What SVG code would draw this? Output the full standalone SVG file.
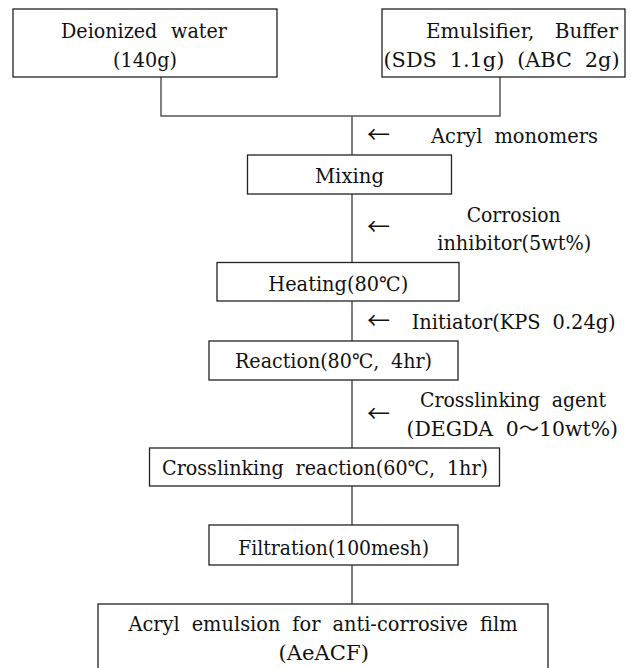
<svg xmlns="http://www.w3.org/2000/svg" width="631" height="668" viewBox="0 0 631 668">
<defs>
<style>
.box{fill:#fff;stroke:#222;stroke-width:1.3}
.con{fill:none;stroke:#555;stroke-width:1.5}
.t{font-family:"DejaVu Serif","Noto Sans CJK KR",serif;font-size:20px;fill:#111}
.arr{font-family:"Noto Sans CJK KR",sans-serif;font-size:23px;fill:#111}
</style>
</defs>
<rect width="631" height="668" fill="#fff"/>
<g id="connectors">
<path class="con" d="M161 77V116H500V77"/>
<path class="con" d="M352 116V155"/>
<path class="con" d="M352 194V262.5"/>
<path class="con" d="M352 301V341"/>
<path class="con" d="M352 380V448"/>
<path class="con" d="M352 486V525"/>
<path class="con" d="M352 565V604"/>
</g>
<g id="node-water">
<rect class="box" x="13" y="9" width="264" height="68"/>
<text class="t" x="61" y="37.5" word-spacing="8" textLength="166" lengthAdjust="spacingAndGlyphs">Deionized water</text>
<text class="t" x="113" y="67" textLength="64" lengthAdjust="spacingAndGlyphs">(140g)</text>
</g>
<g id="node-emulsifier">
<rect class="box" x="382" y="9" width="243" height="68"/>
<text class="t" x="426" y="37.5" word-spacing="14" textLength="192" lengthAdjust="spacingAndGlyphs">Emulsifier, Buffer</text>
<text class="t" x="383.5" y="67" word-spacing="6" textLength="236" lengthAdjust="spacingAndGlyphs">(SDS 1.1g) (ABC 2g)</text>
</g>
<g id="input-acryl">
<text class="arr" x="367" y="143">←</text>
<text class="t" x="431" y="143.3" word-spacing="6" textLength="167" lengthAdjust="spacingAndGlyphs">Acryl monomers</text>
</g>
<g id="node-mixing">
<rect class="box" x="247.5" y="155" width="204" height="39"/>
<text class="t" x="315" y="183.3" textLength="69" lengthAdjust="spacingAndGlyphs">Mixing</text>
</g>
<g id="input-inhibitor">
<text class="arr" x="367" y="235.3">←</text>
<text class="t" x="466.7" y="221.7" textLength="94" lengthAdjust="spacingAndGlyphs">Corrosion</text>
<text class="t" x="437.3" y="250" textLength="154" lengthAdjust="spacingAndGlyphs">inhibitor(5wt%)</text>
</g>
<g id="node-heating">
<rect class="box" x="217" y="262.5" width="242" height="38.5"/>
<text class="t" x="268.3" y="290.7" textLength="140" lengthAdjust="spacingAndGlyphs">Heating(80℃)</text>
</g>
<g id="input-initiator">
<text class="arr" x="367" y="328.7">←</text>
<text class="t" x="411.7" y="329.3" word-spacing="6" textLength="204" lengthAdjust="spacingAndGlyphs">Initiator(KPS 0.24g)</text>
</g>
<g id="node-reaction">
<rect class="box" x="209" y="341" width="249" height="39"/>
<text class="t" x="235" y="367.5" word-spacing="6" textLength="197" lengthAdjust="spacingAndGlyphs">Reaction(80℃, 4hr)</text>
</g>
<g id="input-crosslinker">
<text class="arr" x="367" y="421.5">←</text>
<text class="t" x="420" y="407" word-spacing="6" textLength="186" lengthAdjust="spacingAndGlyphs">Crosslinking agent</text>
<text class="t" x="406.5" y="435.5" word-spacing="6" textLength="211.5" lengthAdjust="spacingAndGlyphs">(DEGDA 0～10wt%)</text>
</g>
<g id="node-crosslinking">
<rect class="box" x="149.5" y="448" width="350" height="38"/>
<text class="t" x="162" y="475" word-spacing="6" textLength="326" lengthAdjust="spacingAndGlyphs">Crosslinking reaction(60℃, 1hr)</text>
</g>
<g id="node-filtration">
<rect class="box" x="209" y="525" width="249" height="40"/>
<text class="t" x="238.3" y="554.7" textLength="190.7" lengthAdjust="spacingAndGlyphs">Filtration(100mesh)</text>
</g>
<g id="node-product">
<rect class="box" x="98" y="604" width="450" height="80"/>
<text class="t" x="128.5" y="631.3" word-spacing="6" textLength="389" lengthAdjust="spacingAndGlyphs">Acryl emulsion for anti-corrosive film</text>
<text class="t" x="278.5" y="660" textLength="90.5" lengthAdjust="spacingAndGlyphs">(AeACF)</text>
</g>
</svg>
